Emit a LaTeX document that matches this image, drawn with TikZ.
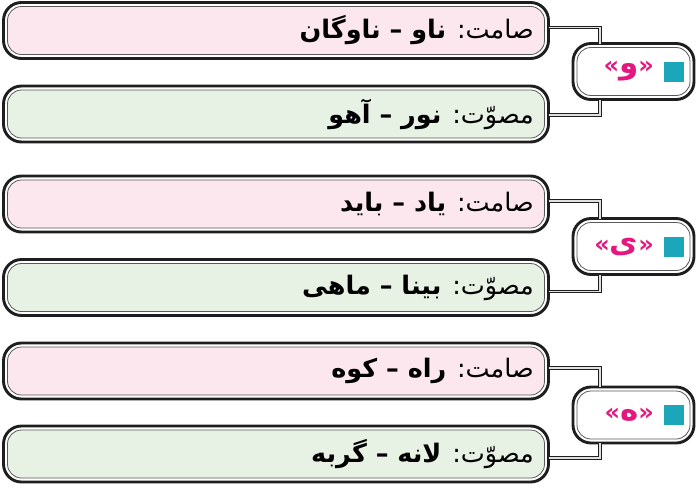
\documentclass[tikz,border=0pt]{standalone}
\usepackage{fontspec}
\TeXXeTstate=1
\newfontfamily\fa[Script=Arabic]{DejaVu Sans}
\newfontfamily\latn{DejaVu Sans}
\usetikzlibrary{calc}
\definecolor{pinkf}{HTML}{FCE7EF}
\definecolor{greenf}{HTML}{E7F2E5}
\definecolor{magc}{HTML}{E5177F}
\definecolor{sqc}{HTML}{1BA6B9}
\definecolor{edge}{HTML}{1E1E1E}
\tikzset{
  outerbox/.style={draw=edge, line width=2.9pt, rounded corners=18pt, fill=white,
    minimum height=56pt, inner sep=0pt, outer sep=0pt},
  rowbox/.style={outerbox, minimum width=545pt},
  hubbox/.style={outerbox, minimum width=121pt},
  innerline/.style={draw=black!65, line width=0.8pt, rounded corners=14pt},
  conn/.style={draw=edge, line width=1pt, double=black!12, double distance=1.6pt},
  rowtext/.style={anchor=east, inner sep=0pt, font=\fa\fontsize{25.5}{30}\selectfont},
  hubtext/.style={anchor=east, inner sep=0pt, text=magc, font=\bfseries\fontsize{31}{34}\selectfont},
  sq/.style={fill=sqc, minimum size=20pt, inner sep=0pt, outer sep=0pt}
}
\newcommand{\insetbox}[2]{%
  \draw[innerline, fill=#2] ($(#1.north west)+(4pt,-4pt)$) rectangle ($(#1.south east)+(-4pt,4pt)$);}
\newcommand{\hubletter}[1]{{\latn\fontsize{24}{26}\selectfont«}{\fa #1}{\latn\fontsize{24}{26}\selectfont»}}
\begin{document}
\begin{tikzpicture}[x=1pt,y=-1pt]
\useasboundingbox (0,0) rectangle (700,490);
% group 1
\node[rowbox] (b1) at (276,30.5) {};
\node[rowbox] (b2) at (276,114) {};
\node[hubbox] (h1) at (633.5,71.5) {};
% group 2
\node[rowbox] (b3) at (276,204) {};
\node[rowbox] (b4) at (276,287.5) {};
\node[hubbox] (h2) at (633.5,246.5) {};
% group 3
\node[rowbox] (b5) at (276,371) {};
\node[rowbox] (b6) at (276,454) {};
\node[hubbox] (h3) at (633.5,415) {};

\insetbox{b1}{pinkf}
\insetbox{b2}{greenf}
\insetbox{b3}{pinkf}
\insetbox{b4}{greenf}
\insetbox{b5}{pinkf}
\insetbox{b6}{greenf}
\insetbox{h1}{white}
\insetbox{h2}{white}
\insetbox{h3}{white}

% connectors
\draw[conn] ([yshift=3pt]b1.east) -| ([xshift=27pt]h1.north west);
\draw[conn] ([yshift=-1pt]b2.east) -| ([xshift=27pt]h1.south west);
\draw[conn] ([yshift=3pt]b3.east) -| ([xshift=27pt]h2.north west);
\draw[conn] ([yshift=-4pt]b4.east) -| ([xshift=27pt]h2.south west);
\draw[conn] ([yshift=3pt]b5.east) -| ([xshift=27pt]h3.north west);
\draw[conn] ([yshift=-4pt]b6.east) -| ([xshift=27pt]h3.south west);

% row texts
\node[rowtext] (t1) at (534,30.5) {\beginR صامت: \textbf{ناو – ناوگان}\endR};
\node[rowtext] (t2) at (534,114) {\beginR مصوّت: \textbf{نور – آهو}\endR};
\node[rowtext] (t3) at (534,204) {\beginR صامت: \textbf{یاد – باید}\endR};
\node[rowtext] (t4) at (534,287.5) {\beginR مصوّت: \textbf{بینا – ماهی}\endR};
\node[rowtext] (t5) at (534,371) {\beginR صامت: \textbf{راه – کوه}\endR};
\node[rowtext] (t6) at (534,454) {\beginR مصوّت: \textbf{لانه – گربه}\endR};

% hub contents
\node[sq] (s1) at (673.5,71.5) {};
\node[sq] (s2) at (673.5,246.5) {};
\node[sq] (s3) at (673.5,415) {};
\node[hubtext] (l1) at (654,71.5) {\hubletter{و}};
\node[hubtext] (l2) at (654,246.5) {\hubletter{ی}};
\node[hubtext] (l3) at (654,415) {\hubletter{ه}};
\end{tikzpicture}
\end{document}
